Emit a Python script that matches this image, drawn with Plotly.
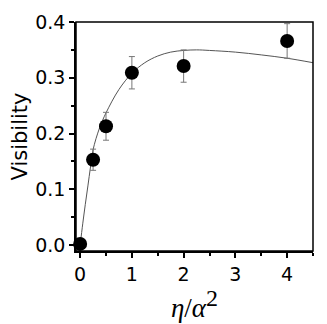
import plotly.graph_objects as go

# Measured data
x_data = [0, 0.25, 0.5, 1, 2, 4]
y_data = [0.002, 0.153, 0.213, 0.309, 0.321, 0.366]
y_err = [0.0, 0.019, 0.025, 0.029, 0.029, 0.031]

# Theory curve
x_curve = [0, 0.05, 0.1, 0.15, 0.2, 0.25, 0.375, 0.5, 0.75, 1.0, 1.25, 1.5, 1.75, 2.0, 2.25, 2.5, 3.0, 3.5, 4.0, 4.5]
y_curve = [0, 0.038, 0.073, 0.106, 0.14, 0.171, 0.21, 0.237, 0.279, 0.308, 0.327, 0.339, 0.346, 0.349, 0.350, 0.349, 0.346, 0.341, 0.335, 0.327]

x_ticks = [0, 1, 2, 3, 4]
y_ticks = [0.0, 0.1, 0.2, 0.3, 0.4]

fig = go.Figure()
fig.add_trace(go.Scatter(
    x=x_curve, y=y_curve, mode="lines",
    line=dict(color="#555555", width=1, shape="spline"),
    hoverinfo="skip", showlegend=False,
))
fig.add_trace(go.Scatter(
    x=x_data, y=y_data, mode="markers",
    marker=dict(color="black", size=14),
    error_y=dict(type="data", array=y_err, color="#777777", thickness=1, width=3),
    cliponaxis=False, showlegend=False,
))

# frame box (top/right lines)
fig.add_shape(type="rect", xref="paper", yref="paper", x0=0, y0=0, x1=1, y1=1,
              line=dict(color="black", width=1.5), layer="above")

axis_font = dict(family="DejaVu Sans, sans-serif", size=19, color="black")
fig.update_layout(
    width=319, height=316,
    margin=dict(l=68, r=14, t=14, b=73),
    plot_bgcolor="white", paper_bgcolor="white",
    xaxis=dict(
        range=[-0.08, 4.5], tickvals=x_ticks, ticktext=[str(v) for v in x_ticks],
        ticks="outside", ticklen=5, tickwidth=1.5, tickcolor="black",
        minor=dict(dtick=0.5, tick0=0, ticks="outside", ticklen=3, tickwidth=1.5, tickcolor="black"),
        showline=True, linecolor="black", linewidth=1.5,
        showgrid=False, zeroline=False, tickfont=axis_font, automargin=False,
        title=dict(text="<i>η</i>/<i>α</i><sup><span style=\"font-size:24px\">2</span></sup>",
                   font=dict(family="Times New Roman, Liberation Serif, serif", size=27, color="black"),
                   standoff=0),
    ),
    yaxis=dict(
        range=[-0.0107, 0.4], tickvals=y_ticks, ticktext=["%.1f" % v for v in y_ticks],
        ticks="outside", ticklen=5, tickwidth=1.5, tickcolor="black",
        minor=dict(dtick=0.05, tick0=0, ticks="outside", ticklen=3, tickwidth=1.5, tickcolor="black"),
        showline=True, linecolor="black", linewidth=1.5,
        showgrid=False, zeroline=False, tickfont=axis_font, automargin=False,
        title=dict(text="Visibility",
                   font=dict(family="DejaVu Sans, sans-serif", size=21, color="black"),
                   standoff=5),
    ),
)

fig.write_html("out.html")
